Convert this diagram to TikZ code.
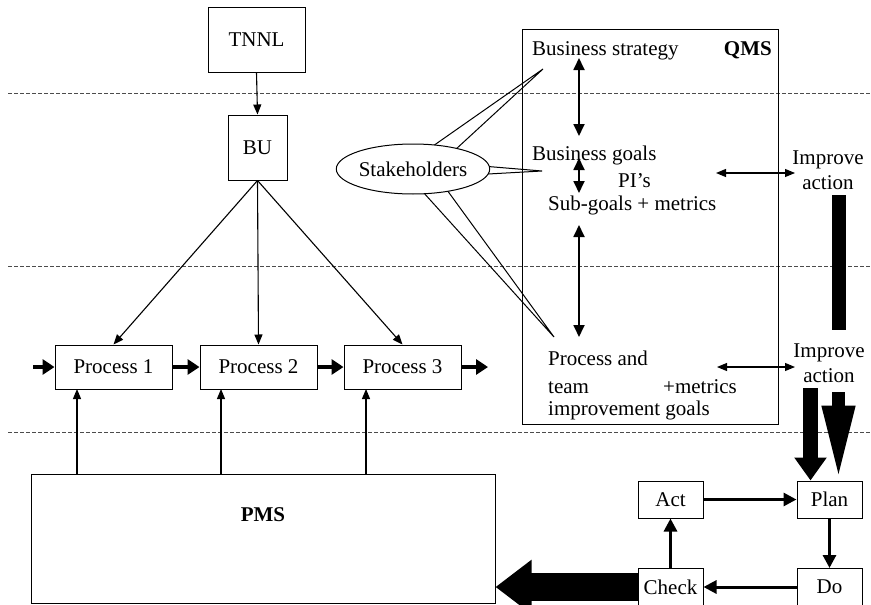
\documentclass[tikz,border=0pt]{standalone}
\usepackage{fontspec}
\setmainfont{Liberation Serif}
\usetikzlibrary{arrows.meta,shapes.geometric}
\begin{document}
\begin{tikzpicture}[x=1pt,y=-1pt,
  font=\fontsize{21}{25}\selectfont,
  box/.style={draw,line width=1pt,inner sep=0pt},
  lbl/.style={inner sep=0pt},
  thinarr/.style={line width=1.1pt,-{Triangle[length=10pt,width=8pt]}},
  dblarr/.style={line width=1.8pt,{Triangle[length=12pt,width=11pt]}-{Triangle[length=12pt,width=11pt]}},
  hdbl/.style={line width=1.1pt,{Triangle[length=10pt,width=8pt]}-{Triangle[length=10pt,width=8pt]}},
  flowarr/.style={line width=4pt,-{Triangle[length=12pt,width=15pt]}},
  cyclearr/.style={line width=3pt,-{Triangle[length=13pt,width=13pt]}},
  guide/.style={dash pattern=on 4pt off 2pt,line width=0.8pt,black!70},
  wedge/.style={line width=1pt}]
\useasboundingbox (0,0) rectangle (871,605);

% level separators
\foreach \yy/\nm in {93/g1,266/g2,432/g3}{
  \coordinate (\nm a) at (8,\yy);
  \coordinate (\nm b) at (871,\yy);
  \draw[guide] (\nm a) -- (\nm b);
}

% organisation hierarchy
\node[box,minimum width=97pt,minimum height=65pt] (tnnl) at (256.5,39.5) {TNNL};
\node[box,minimum width=59pt,minimum height=65pt] (bu) at (257.5,147.5) {BU};

\node[box,minimum width=117pt,minimum height=44pt] (p1) at (113.5,367) {Process 1};
\node[box,minimum width=117pt,minimum height=44pt] (p2) at (258.5,367) {Process 2};
\node[box,minimum width=117pt,minimum height=44pt] (p3) at (402.5,367) {Process 3};

\node[box,minimum width=464pt,minimum height=129pt] (pms) at (263,538.5) {};
\node[lbl,font=\fontsize{21}{25}\selectfont\bfseries] (pmslbl) at (263,515) {PMS};

\draw[thinarr] (tnnl.south) -- (bu.north);
\draw[thinarr] (bu.south) -- (p1.north);
\draw[thinarr] (bu.south) -- (p2.north);
\draw[thinarr] (bu.south) -- (p3.north);

\coordinate (u1) at (77,389);
\coordinate (u2) at (221,389);
\coordinate (u3) at (366,389);
\foreach \u in {u1,u2,u3}{
  \draw[thinarr] (pms.north -| \u) -- (\u);
}

\coordinate (pin) at (33,367);
\coordinate (pout) at (488,367);
\draw[flowarr] (pin) -- (p1.west);
\draw[flowarr] (p1.east) -- (p2.west);
\draw[flowarr] (p2.east) -- (p3.west);
\draw[flowarr] (p3.east) -- (pout);

% quality management system
\node[box,minimum width=256pt,minimum height=395pt] (qms) at (650,226.5) {};
\node[lbl,anchor=base east,font=\fontsize{21}{25}\selectfont\bfseries] (qmslbl) at (772,56) {QMS};
\node[lbl,anchor=base west] (bstrat) at (532,55) {Business strategy};
\node[lbl,anchor=base west] (bgoals) at (532,160) {Business goals};
\node[lbl,anchor=base west] (pis) at (618,187) {PI’s};
\node[lbl,anchor=base west] (subg) at (548,210) {Sub-goals + metrics};
\node[lbl,anchor=base west] (pand) at (548,365) {Process and};
\node[lbl,anchor=base west] (team) at (548,393) {team};
\node[lbl,anchor=base west] (pmet) at (663,393) {+metrics};
\node[lbl,anchor=base west] (impg) at (548,415) {improvement goals};

\coordinate (a1) at (579,58);  \coordinate (a2) at (579,136);
\coordinate (a3) at (579,158); \coordinate (a4) at (579,193);
\coordinate (a5) at (579,225); \coordinate (a6) at (579,337);
\draw[dblarr] (a1) -- (a2);
\draw[dblarr] (a3) -- (a4);
\draw[dblarr] (a5) -- (a6);

% stakeholders
\coordinate (t1) at (543,69);
\coordinate (t2) at (542,171);
\coordinate (t3) at (554,337);
\draw[wedge] (433,146) -- (t1) -- (455,150);
\draw[wedge] (470,165) -- (t2) -- (470,175);
\draw[wedge] (423,192) -- (t3) -- (447,190);
\node[draw,ellipse,line width=1pt,fill=white,minimum width=130pt,minimum height=50pt,inner sep=0pt] (stake) at (413,169) {Stakeholders};

% improvement actions
\node[lbl,align=center] (imp1) at (828,170) {Improve\\action};
\node[lbl,align=center] (imp2) at (829,363) {Improve\\action};
\coordinate (h1) at (716,173); \coordinate (h2) at (795,173);
\coordinate (h3) at (717,367); \coordinate (h4) at (795,367);
\draw[hdbl] (h1) -- (h2);
\draw[hdbl] (h3) -- (h4);
\fill (832,195) rectangle (846,330);

% PDCA cycle
\node[box,minimum width=65pt,minimum height=37pt] (plan) at (829.5,499.5) {Plan};
\node[box,minimum width=65pt,minimum height=37pt] (act) at (670.5,499.5) {Act};
\node[box,minimum width=65pt,minimum height=37pt] (do) at (829.5,587) {Do};
\node[box,minimum width=65pt,minimum height=37pt] (check) at (670.5,587) {Check};

\coordinate (s1) at (810.5,388);
\coordinate (s2) at (838.5,392);
\draw[line width=15pt,-{Triangle[length=23pt,width=31pt]}] (s1) -- (s1 |- plan.north);
\draw[line width=13pt,-{Triangle[length=75pt,width=30pt]}] (s2) -- (s2 |- plan.north);

\draw[cyclearr] (act.east) -- (plan.west);
\draw[cyclearr] (plan.south) -- (do.north);
\draw[cyclearr] (do.west) -- (check.east);
\draw[cyclearr] (check.north) -- (act.south);

\draw[line width=28pt,-{Triangle[length=36pt,width=52pt]}] (check.west) -- (pms.east |- check.west);
\end{tikzpicture}
\end{document}
